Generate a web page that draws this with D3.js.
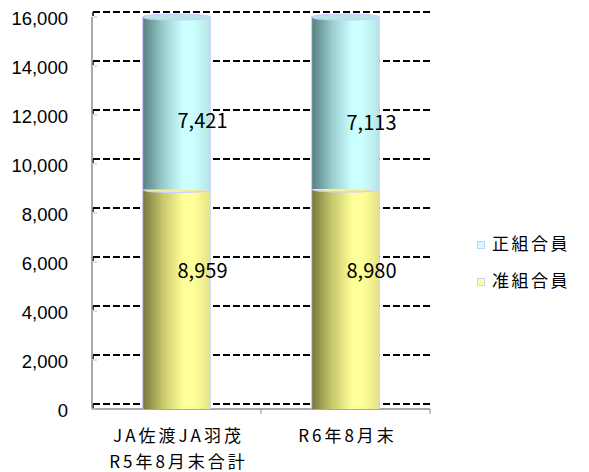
<!DOCTYPE html>
<html lang="ja">
<head>
    <meta charset="UTF-8">
    <script src="https://d3js.org/d3.v7.min.js"></script>
    <style>
        body {margin: 0; background-color: #ffffff}
        svg {display: block;}
        text {font-family: "Noto Sans CJK JP", "Liberation Sans", sans-serif; fill: #000}
    </style>
</head>
<body>
<svg class="chart"></svg>
<script type="text/javascript">
    // data
    const categories = [['JA佐渡JA羽茂', 'R5年8月末合計'], ['R6年8月末']];
    const series_names = ['准組合員', '正組合員'];
    const associate = [8959, 8980];
    const regular = [7421, 7113];
    const y_ticks = [0, 2000, 4000, 6000, 8000, 10000, 12000, 14000, 16000];

    const width = 589, height = 472;
    const plot = {left: 92, right: 430, top: 17, bottom: 409};
    const depth = 5;   // back wall offset of the pseudo-3D frame

    const svg = d3.select('.chart').attr('width', width).attr('height', height);

    const x = d3.scaleBand()
        .domain(d3.range(categories.length))
        .range([plot.left, plot.right]);

    const y = d3.scaleLinear()
        .domain([0, d3.max(y_ticks)])
        .range([plot.bottom, plot.top])
        .clamp(true);

    const defs = svg.append('defs');
    const palettes = [
        ['#77773c', '#c8c86c', '#ffff99', '#ffff99', '#e4e488'],
        ['#557f7f', '#99cccc', '#ccffff', '#ccffff', '#b6e4e4']
    ];
    const stops = [0, 0.3, 0.6, 0.75, 1];
    palettes.forEach((p, i) => {
        const g = defs.append('linearGradient').attr('id', 'grad' + i)
            .attr('x1', '0%').attr('x2', '100%').attr('y1', '0%').attr('y2', '0%');
        p.forEach((c, j) => g.append('stop').attr('offset', stops[j]).attr('stop-color', c));
    });

    // gridlines on the back wall
    y_ticks.forEach(t => {
        svg.append('line')
            .attr('x1', plot.left + 1).attr('x2', plot.right)
            .attr('y1', y(t) - depth).attr('y2', y(t) - depth)
            .attr('stroke', '#000').attr('stroke-width', 2)
            .attr('stroke-dasharray', '7,3');
        svg.append('line')
            .attr('x1', plot.left + 1).attr('x2', plot.left + 1)
            .attr('y1', y(t) - depth).attr('y2', y(t) - 1)
            .attr('stroke', '#000').attr('stroke-width', 1.5);
    });

    // axes
    const axis_color = '#8c8c8c';
    svg.append('line')
        .attr('x1', plot.left).attr('x2', plot.left)
        .attr('y1', plot.top).attr('y2', plot.bottom)
        .attr('stroke', axis_color).attr('stroke-width', 1.5);
    svg.append('line')
        .attr('x1', plot.left).attr('x2', plot.right)
        .attr('y1', plot.bottom).attr('y2', plot.bottom)
        .attr('stroke', axis_color).attr('stroke-width', 1.5);
    y_ticks.forEach(t => {
        svg.append('line')
            .attr('x1', plot.left).attr('x2', plot.left + 5)
            .attr('y1', y(t)).attr('y2', y(t))
            .attr('stroke', '#c0c0c0').attr('stroke-width', 1);
        svg.append('text')
            .attr('x', 68).attr('y', y(t) + 3)
            .attr('text-anchor', 'end')
            .attr('dominant-baseline', 'middle')
            .style('font-family', '"Liberation Sans", Arial, sans-serif')
            .style('font-size', '18.5px')
            .text(d3.format(',')(t));
    });
    [1, 2].forEach(i => {
        svg.append('line')
            .attr('x1', x.step() * i + plot.left).attr('x2', x.step() * i + plot.left)
            .attr('y1', plot.bottom).attr('y2', plot.bottom + 5)
            .attr('stroke', axis_color).attr('stroke-width', 1);
    });

    // cylinders
    const bar_w = x.bandwidth() * 0.4;
    const ry = 3;
    categories.forEach((c, i) => {
        const cx = x(i) + x.bandwidth() / 2;
        const segs = [
            {base: 0, top: associate[i], v: associate[i], s: 0, frac: 0.62},
            {base: associate[i], top: associate[i] + regular[i], v: regular[i], s: 1, frac: 0.37}
        ];
        segs.forEach(d => {
            const g = svg.append('g');
            g.append('rect')
                .attr('x', cx - bar_w / 2).attr('width', bar_w)
                .attr('y', y(d.top)).attr('height', y(d.base) - y(d.top))
                .attr('fill', 'url(#grad' + d.s + ')');
            g.append('line')
                .attr('x1', cx - bar_w / 2).attr('x2', cx - bar_w / 2)
                .attr('y1', y(d.top)).attr('y2', y(d.base))
                .attr('stroke', '#ccccff').attr('stroke-width', 1);
            g.append('line')
                .attr('x1', cx + bar_w / 2).attr('x2', cx + bar_w / 2)
                .attr('y1', y(d.top)).attr('y2', y(d.base))
                .attr('stroke', '#ccccff').attr('stroke-width', 1);
            g.append('ellipse')
                .attr('cx', cx).attr('cy', y(d.top))
                .attr('rx', bar_w / 2).attr('ry', ry)
                .attr('fill', d.s === 1 ? '#b6e6e6' : '#f0f0a0')
                .attr('stroke', '#ccccff').attr('stroke-width', 1.2);
        });
        segs.forEach(d => {
            svg.append('text')
                .attr('x', cx + 26)
                .attr('y', y(d.base + d.v * d.frac))
                .attr('text-anchor', 'middle')
                .attr('dominant-baseline', 'middle')
                .style('font-size', '20px')
                .text(d3.format(',')(d.v));
        });
        c.forEach((line, k) => {
            svg.append('text')
                .attr('x', cx + 2)
                .attr('y', 437 + k * 26)
                .attr('text-anchor', 'middle')
                .attr('dominant-baseline', 'middle')
                .style('font-size', '17px')
                .style('letter-spacing', '3px')
                .text(line);
        });
    });

    // legend
    const legend_colors = ['#ffff99', '#ccffff'];
    [1, 0].forEach((s, k) => {
        const ly = 245 + k * 37;
        svg.append('rect')
            .attr('x', 477.5).attr('y', ly - 3.5)
            .attr('width', 7).attr('height', 7)
            .attr('fill', legend_colors[s])
            .attr('stroke', '#ccccff').attr('stroke-width', 1);
        svg.append('text')
            .attr('x', 492).attr('y', ly)
            .attr('dominant-baseline', 'middle')
            .style('font-size', '17px')
            .style('letter-spacing', '2.5px')
            .text(series_names[s]);
    });
</script>
</body>
</html>
